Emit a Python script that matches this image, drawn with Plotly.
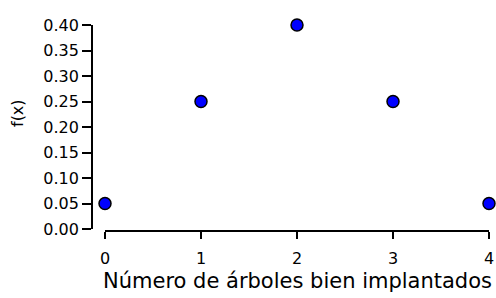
import plotly.graph_objects as go

x_vals = [0, 1, 2, 3, 4]
fx_vals = [0.05, 0.25, 0.40, 0.25, 0.05]
y_ticks = [0.00, 0.05, 0.10, 0.15, 0.20, 0.25, 0.30, 0.35, 0.40]
y_ticklabels = ["0.00", "0.05", "0.10", "0.15", "0.20", "0.25", "0.30", "0.35", "0.40"]
x_ticks = [0, 1, 2, 3, 4]
x_title = "Número de árboles bien implantados"
y_title = "f(x)"

W, H = 496, 298
ml, mr, mt, mb = 92, 7, 25, 67
pw = W - ml - mr
ph = H - mt - mb

fig = go.Figure()
fig.add_trace(go.Scatter(
    x=x_vals, y=fx_vals, mode="markers",
    marker=dict(size=12, color="#0000FF", line=dict(color="black", width=1.5)),
    cliponaxis=False, showlegend=False,
))

font = "DejaVu Sans"
fig.update_layout(
    width=W, height=H,
    margin=dict(l=ml, r=mr, t=mt, b=mb, pad=0, autoexpand=False),
    paper_bgcolor="white", plot_bgcolor="white",
    xaxis=dict(
        domain=[(105 - ml) / pw, 1], range=[0, 4], anchor="free", position=0,
        tickvals=x_ticks, ticks="outside", ticklen=7, tickwidth=1.5, tickcolor="black",
        showline=True, linecolor="black", linewidth=1.8, showgrid=False, zeroline=False,
        tickfont=dict(family=font, size=16, color="black"), ticklabelstandoff=6,
        automargin=False,
    ),
    yaxis=dict(
        domain=[(231 - 229) / ph, 1], range=[0, 0.40], anchor="free", position=0,
        tickvals=y_ticks, ticktext=y_ticklabels, ticks="outside", ticklen=9, tickwidth=1.5,
        tickcolor="black", showline=True, linecolor="black", linewidth=1.8,
        showgrid=False, zeroline=False,
        tickfont=dict(family=font, size=16, color="black"), ticklabelstandoff=0,
        automargin=False,
    ),
    annotations=[
        dict(text=x_title, xref="paper", yref="paper",
             x=(297 - ml) / pw, y=(231 - 281) / ph, xanchor="center", yanchor="middle",
             showarrow=False, font=dict(family=font, size=21, color="black")),
        dict(text=y_title, xref="paper", yref="paper", textangle=-90,
             x=(17 - ml) / pw, y=(231 - 113) / ph, xanchor="center", yanchor="middle",
             showarrow=False, font=dict(family=font, size=16, color="black")),
    ],
)

fig.write_html("out.html", config={"displayModeBar": False},
               post_script="document.body.style.margin='0';document.body.style.padding='0';")
